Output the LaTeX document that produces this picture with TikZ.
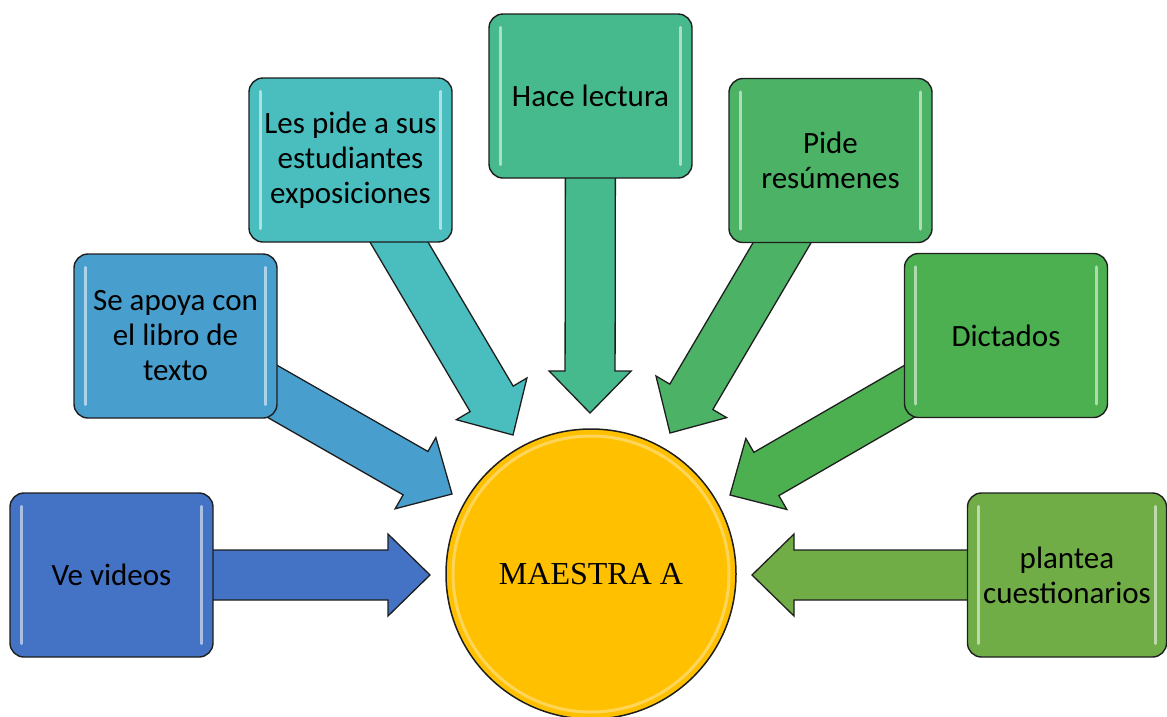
\documentclass[tikz,border=0pt]{standalone}
\usepackage{fontspec}
\setmainfont{Carlito}
\newfontfamily\timesf{Liberation Serif}
\usetikzlibrary{calc}
\definecolor{cA}{RGB}{68,114,196}
\definecolor{cB}{RGB}{72,158,204}
\definecolor{cC}{RGB}{74,190,190}
\definecolor{cD}{RGB}{70,186,140}
\definecolor{cE}{RGB}{76,178,102}
\definecolor{cF}{RGB}{76,175,80}
\definecolor{cG}{RGB}{112,173,71}
\definecolor{gold}{RGB}{255,192,0}
\definecolor{edge}{RGB}{30,30,30}
\newcommand{\blockarr}[3]{%
  \path (#2) coordinate (tt) ($(#2)!42pt!(#1)$) coordinate (bb);
  \draw[arrowbody, fill=#3]
    ($(#1)!25pt!90:(#2)$) -- ($(bb)!25pt!90:(tt)$) -- ($(bb)!41pt!90:(tt)$) -- (tt)
    -- ($(bb)!41pt!-90:(tt)$) -- ($(bb)!25pt!-90:(tt)$) -- ($(#1)!25pt!-90:(#2)$) -- cycle;}
\begin{document}
\begin{tikzpicture}[x=1pt,y=-1pt,
  box/.style={draw=edge, line width=1.4pt, rounded corners=14pt, minimum width=203pt,
    minimum height=164pt, inner sep=0pt, align=center, text=black,
    font=\fontsize{31}{35}\selectfont},
  arrowbody/.style={draw=edge, line width=1.3pt, line join=miter},
  hl/.style={white, opacity=0.55, line width=3pt, line cap=round}]
\useasboundingbox (0,0) rectangle (1167,716);
% box centres (for arrow starts) and tips
\coordinate (p1) at (111.5,575);
\coordinate (p2) at (175.5,336);
\coordinate (p3) at (350.5,160);
\coordinate (p4) at (590.5,96);
\coordinate (p5) at (830.5,160.5);
\coordinate (p6) at (1006,335.5);
\coordinate (p7) at (1067,575);
\coordinate (t1) at (430,575);
\coordinate (t2) at (452,494);
\coordinate (t3) at (513,435);
\coordinate (t4) at (590,413);
\coordinate (t5) at (670,433);
\coordinate (t6) at (730,495);
\coordinate (t7) at (752,575);
% arrows
\blockarr{p1}{t1}{cA}
\blockarr{p2}{t2}{cB}
\blockarr{p3}{t3}{cC}
\blockarr{p4}{t4}{cD}
\blockarr{p5}{t5}{cE}
\blockarr{p6}{t6}{cF}
\blockarr{p7}{t7}{cG}
% boxes
\node[box, fill=cA] (b1) at (p1) {Ve videos};
\node[box, fill=cB] (b2) at (p2) {Se apoya con\\el libro de\\texto};
\node[box, fill=cC] (b3) at (p3) {Les pide a sus\\estudiantes\\exposiciones};
\node[box, fill=cD] (b4) at (p4) {Hace lectura};
\node[box, fill=cE] (b5) at (p5) {Pide\\resúmenes};
\node[box, fill=cF] (b6) at (p6) {Dictados};
\node[box, fill=cG, minimum width=199pt] (b7) at (p7) {plantea\\cuestionarios};
\foreach \b in {b1,b2,b3,b4,b5,b6,b7}{
  \draw[hl] ($(\b.north west)+(12,14)$) -- ($(\b.south west)+(12,-14)$);
  \draw[hl] ($(\b.north east)+(-12,14)$) -- ($(\b.south east)+(-12,-14)$);
}
% centre circle
\node[circle, draw=edge, line width=1.5pt, fill=gold, minimum size=290pt, inner sep=0pt,
  font=\timesf\fontsize{32}{38}\selectfont] (m) at (591,574) {MAESTRA A};
\draw[white, opacity=0.35, line width=3pt] (m.center) circle (138pt);
\end{tikzpicture}
\end{document}
